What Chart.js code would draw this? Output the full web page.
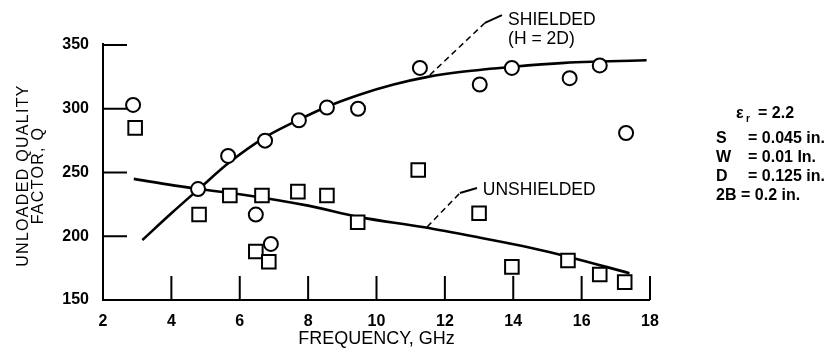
<!DOCTYPE html>
<html><head><meta charset="utf-8">
<script src="https://cdn.jsdelivr.net/npm/chart.js@4.4.0/dist/chart.umd.min.js"></script>
<style>html,body{margin:0;padding:0;background:#fff}canvas{display:block}</style>
</head><body>
<canvas id="c" width="835" height="351"></canvas>
<script>
// ---- data ----
const xTicks = [2, 4, 6, 8, 10, 12, 14, 16, 18];
const yTicks = [150, 200, 250, 300, 350];

const shieldedFreq = [2.88, 4.78, 5.66, 6.74, 7.73, 8.55, 9.46, 6.47, 6.91, 11.27, 13.02, 13.96, 15.65, 16.53, 17.3];
const shieldedQ    = [303, 237, 263, 275, 291, 301, 300, 217, 194, 332, 319, 332, 324, 334, 281];

const unshieldedFreq = [2.94, 4.81, 5.71, 6.65, 7.70, 8.55, 9.45, 6.47, 6.85, 11.22, 13.0, 13.96, 15.6, 16.53, 17.26];
const unshieldedQ    = [285, 217, 232, 232, 235, 232, 211, 188, 180, 252, 218, 176, 181, 170, 164];

const shieldedFitFreq = [3.15, 4.0, 4.8, 5.7, 6.7, 7.7, 8.5, 9.5, 10.5, 11.5, 12.5, 14.0, 15.5, 16.5, 17.9];
const shieldedFitQ    = [197, 218, 237, 258, 277, 291, 301, 311, 319, 325, 329, 333, 336, 337, 338];

const unshieldedFitFreq = [2.9, 4.8, 6.0, 8.0, 9.5, 11.4, 13.0, 14.5, 15.6, 17.4];
const unshieldedFitQ    = [245, 237, 233, 224, 215, 207, 199, 191, 184, 171];

const yTitle = ['UNLOADED QUALITY', 'FACTOR, Q'];
const xTitle = 'FREQUENCY, GHz';
const shieldedLabel = ['SHIELDED', '(H = 2D)'];
const unshieldedLabel = ['UNSHIELDED'];
const paramLabels = [['S', '= 0.045 in.'], ['W', '= 0.01 In.'], ['D', '= 0.125 in.'], ['2B', '= 0.2 in.']];
const epsLabel = ['ε', 'r', '= 2.2'];

// leader lines in data coordinates [freq, Q]
const shieldedLeader = [[11.56, 326.5], [13.17, 367.3], [13.67, 373.5]];
const unshieldedLeader = [[11.48, 207.3], [12.44, 233.9], [12.94, 237.8]];

const FONT = "'Liberation Sans', Arial, Helvetica, sans-serif";
Chart.defaults.font.family = FONT;
Chart.defaults.color = '#000';

const pts = (xs, ys) => xs.map((v, i) => ({ x: v, y: ys[i] }));

const axesPlugin = {
  id: 'customAxes',
  beforeDatasetsDraw(chart) {
    const { ctx, scales: { x, y } } = chart;
    const x0 = x.getPixelForValue(xTicks[0]);
    const y0 = y.getPixelForValue(yTicks[0]);
    ctx.save();
    ctx.strokeStyle = '#000';
    ctx.lineWidth = 2;
    ctx.beginPath();
    ctx.moveTo(x0, y.getPixelForValue(yTicks[yTicks.length - 1]) - 2);
    ctx.lineTo(x0, y0);
    ctx.lineTo(x.getPixelForValue(xTicks[xTicks.length - 1]), y0);
    ctx.stroke();
    ctx.beginPath();
    xTicks.slice(1).forEach(v => {
      const px = x.getPixelForValue(v);
      ctx.moveTo(px, y0); ctx.lineTo(px, y0 - 24);
    });
    yTicks.slice(1).forEach(v => {
      const py = y.getPixelForValue(v);
      ctx.moveTo(x0, py); ctx.lineTo(x0 + 24, py);
    });
    ctx.stroke();

    const drawLeader = (L) => {
      const p = L.map(([f, q]) => [x.getPixelForValue(f), y.getPixelForValue(q)]);
      ctx.lineWidth = 1.5;
      ctx.setLineDash([6, 4]);
      ctx.beginPath(); ctx.moveTo(p[0][0], p[0][1]); ctx.lineTo(p[1][0], p[1][1]); ctx.stroke();
      ctx.setLineDash([]);
      ctx.lineWidth = 2;
      ctx.beginPath(); ctx.moveTo(p[1][0], p[1][1]); ctx.lineTo(p[2][0], p[2][1]); ctx.stroke();
    };
    drawLeader(shieldedLeader);
    drawLeader(unshieldedLeader);

    // y-axis title (two rotated lines)
    ctx.fillStyle = '#000';
    ctx.font = '16px ' + FONT;
    if ('letterSpacing' in ctx) ctx.letterSpacing = '1.3px';
    ctx.textAlign = 'center';
    ctx.textBaseline = 'middle';
    const cy = (y.getPixelForValue(yTicks[0]) + y.getPixelForValue(yTicks[yTicks.length - 1])) / 2 + 3;
    [24, 39].forEach((cx, i) => {
      ctx.save();
      ctx.translate(cx, cy);
      ctx.rotate(-Math.PI / 2);
      ctx.fillText(yTitle[i], 0, 0);
      ctx.restore();
    });
    ctx.restore();
  },
  afterDatasetsDraw(chart) {
    const { ctx, scales: { x, y } } = chart;
    ctx.save();
    ctx.fillStyle = '#000';
    ctx.textBaseline = 'middle';
    ctx.textAlign = 'left';
    ctx.font = '17.5px ' + FONT;
    const sx = x.getPixelForValue(13.85);
    ctx.fillText(shieldedLabel[0], sx, y.getPixelForValue(369.6));
    ctx.fillText(shieldedLabel[1], sx, y.getPixelForValue(354.7));
    ctx.fillText(unshieldedLabel[0], x.getPixelForValue(13.11), y.getPixelForValue(236.3));

    // parameter block
    ctx.font = 'bold 16px ' + FONT;
    ctx.fillText(epsLabel[0], 736, 114);
    ctx.font = 'bold 10px ' + FONT;
    ctx.fillText(epsLabel[1], 746, 119);
    ctx.font = 'bold 16px ' + FONT;
    ctx.fillText(epsLabel[2], 758, 114);
    const ys = [139, 158, 177, 196];
    paramLabels.forEach((p, i) => {
      ctx.fillText(p[0], 716, ys[i]);
      ctx.fillText(p[1], i === 3 ? 741 : 748, ys[i]);
    });
    ctx.restore();
  }
};

new Chart(document.getElementById('c'), {
  type: 'scatter',
  data: {
    datasets: [
      { label: 'Shielded (fit)', data: pts(shieldedFitFreq, shieldedFitQ), showLine: true, pointRadius: 0,
        borderColor: '#000', borderWidth: 2.6, cubicInterpolationMode: 'monotone', order: 3, clip: false },
      { label: 'Unshielded (fit)', data: pts(unshieldedFitFreq, unshieldedFitQ), showLine: true, pointRadius: 0,
        borderColor: '#000', borderWidth: 2.6, cubicInterpolationMode: 'monotone', order: 3, clip: false },
      { label: 'Shielded', data: pts(shieldedFreq, shieldedQ), pointStyle: 'circle', pointRadius: 7,
        pointBorderWidth: 2, pointBorderColor: '#000', pointBackgroundColor: '#fff', showLine: false, order: 1, clip: false },
      { label: 'Unshielded', data: pts(unshieldedFreq, unshieldedQ), pointStyle: 'rect', pointRadius: 9.6,
        pointBorderWidth: 2, pointBorderColor: '#000', pointBackgroundColor: '#fff', showLine: false, order: 2, clip: false }
    ]
  },
  options: {
    responsive: false,
    animation: false,
    devicePixelRatio: 1,
    layout: { padding: { top: 45, right: 185, left: 0, bottom: 0 } },
    plugins: { legend: { display: false }, tooltip: { enabled: false } },
    scales: {
      x: {
        type: 'linear', min: 2, max: 18,
        afterBuildTicks(s) { s.ticks = xTicks.map(v => ({ value: v })); },
        afterFit(s) { s.height = 51; },
        grid: { display: false, drawTicks: false }, border: { display: false },
        ticks: { padding: 12, font: { size: 16, weight: 'bold' }, color: '#000' },
        title: { display: true, text: xTitle, font: { size: 18, lineHeight: 1 }, padding: { top: 0, bottom: 3 }, color: '#000' }
      },
      y: {
        type: 'linear', min: 150, max: 350,
        afterBuildTicks(s) { s.ticks = yTicks.map(v => ({ value: v })); },
        afterFit(s) { s.width = 103; },
        grid: { display: false, drawTicks: false }, border: { display: false },
        ticks: { padding: 14, font: { size: 16, weight: 'bold' }, color: '#000' },
        title: { display: false }
      }
    }
  },
  plugins: [axesPlugin]
});
</script>
</body></html>
